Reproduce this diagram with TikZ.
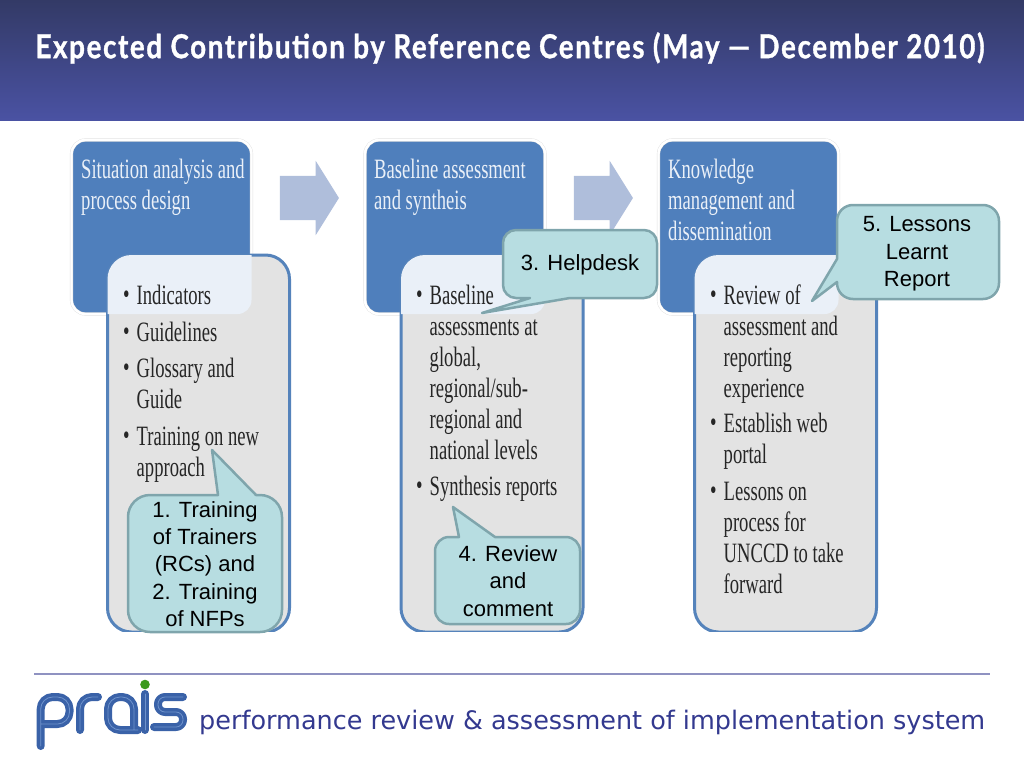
\documentclass[tikz,border=0pt]{standalone}
\usepackage{fontspec}
\usetikzlibrary{shapes.arrows}
\newfontfamily\titlefont[FakeStretch=0.84,LetterSpace=5,FakeBold=1]{Lato Bold}
\newfontfamily\cardfont[FakeStretch=0.665]{Liberation Serif}
\newfontfamily\notefont{Liberation Sans}
\newfontfamily\footfont{DejaVu Sans}

\definecolor{headtop}{HTML}{333A66}
\definecolor{headbot}{HTML}{4A52A3}
\definecolor{cardblue}{HTML}{4F7FBC}
\definecolor{cardpale}{HTML}{EAF0F8}
\definecolor{boxgray}{HTML}{E3E3E3}
\definecolor{boxedge}{HTML}{5583BB}
\definecolor{flowblue}{HTML}{AFBEDB}
\definecolor{notefill}{HTML}{B7DDE1}
\definecolor{noteedge}{HTML}{7FA5AC}
\definecolor{footblue}{HTML}{33398F}
\definecolor{logoblue}{HTML}{3A62A8}
\definecolor{logolight}{HTML}{6F93CC}
\definecolor{logogreen}{HTML}{3C9A1E}

\tikzset{
  card/.style={rectangle, minimum width=180pt, minimum height=174pt, outer sep=0pt,
    rounded corners=14pt, fill=cardblue, draw=black!12, line width=.4pt,
    double=white, double distance=2.4pt},
  listbox/.style={rectangle, minimum width=182pt, minimum height=377pt, outer sep=0pt,
    rounded corners=24pt, fill=boxgray, draw=boxedge, line width=3pt},
  cardtitle/.style={anchor=north west, inner sep=0pt, align=left, text=cardpale,
    font=\cardfont\fontsize{28}{31}\selectfont},
  cardlist/.style={anchor=north west, inner sep=0pt, text=black!85,
    font=\cardfont\fontsize{28}{31}\selectfont},
  flow/.style={single arrow, fill=flowblue, inner xsep=0pt, inner ysep=22pt, outer sep=0pt,
    minimum height=59pt, single arrow head extend=15pt,
    single arrow tip angle=116},
  note/.style={fill=notefill, draw=noteedge, line width=2.5pt, line join=round},
  notelabel/.style={inner sep=0pt, align=center, text=black,
    font=\notefont\fontsize{22}{27.3}\selectfont},
  logo/.style={line cap=round, line join=round, rounded corners=12pt}
}
\newcommand{\bul}{\raisebox{1pt}{\textbullet}}

\begin{document}
\begin{tikzpicture}[x=1pt,y=-1pt]
  \useasboundingbox (0,0) rectangle (1024,768);

  % header
  \shade[top color=headtop, bottom color=headbot] (0,0) rectangle (1024,120);
  \node[text=white, font=\titlefont\fontsize{33}{36}\selectfont] (heading) at (510,48)
    {Expected Contribution by Reference Centres (May — December 2010)};

  % flow arrows
  \node[flow] (flow1) at (302.5,198) {};
  \node[flow] (flow2) at (596.5,198) {};

  % cards and list boxes
  \begin{scope}
    \clip (0,120) rectangle (1024,631.5);
    \foreach \i/\cx/\bx in {1/161.5/198.5, 2/455/492, 3/748.5/785.5} {
      \node[card] (card\i) at (\cx,227) {};
      \node[listbox] (box\i) at (\bx,443.5) {};
      \begin{scope}
        \clip[rounded corners=24pt] (box\i.north west) rectangle (box\i.south east);
        \fill[cardpale, rounded corners=14pt] (card\i.north west) rectangle (card\i.south east);
      \end{scope}
    }
  \end{scope}

  % card titles
  \node[cardtitle] (title1) at (81,159) {Situation analysis and\\process design};
  \node[cardtitle] (title2) at (374,159) {Baseline assessment\\and syntheis};
  \node[cardtitle] (title3) at (668,159) {Knowledge\\management and\\dissemination};

  % lists
  \node[cardlist] (list1) at (123,283) {\begin{tabular}{@{}l@{\hspace{7pt}}l@{}}
    \bul & Indicators\\[5.5pt]
    \bul & Guidelines\\[5.5pt]
    \bul & Glossary and\\
         & Guide\\[5.5pt]
    \bul & Training on new\\
         & approach
  \end{tabular}};
  \node[cardlist] (list2) at (416,283) {\begin{tabular}{@{}l@{\hspace{7pt}}l@{}}
    \bul & Baseline\\
         & assessments at\\
         & global,\\
         & regional/sub-\\
         & regional and\\
         & national levels\\[5pt]
    \bul & Synthesis reports
  \end{tabular}};
  \node[cardlist] (list3) at (710,283) {\begin{tabular}{@{}l@{\hspace{7pt}}l@{}}
    \bul & Review of\\
         & assessment and\\
         & reporting\\
         & experience\\[4pt]
    \bul & Establish web\\
         & portal\\[5.5pt]
    \bul & Lessons on\\
         & process for\\
         & UNCCD to take\\
         & forward
  \end{tabular}};

  % callouts
  \draw[note] (218,495) -- (212,450) -- (256,495) [rounded corners=22pt] -- (282,495)
    -- (282,632) -- (128,632) -- (128,495) [sharp corners] -- cycle;
  \node[notelabel] (note1) at (205,564) {1. Training\\of Trainers\\(RCs) and\\2. Training\\of NFPs};

  \draw[note] (570,298) [rounded corners=13pt] -- (657,298) -- (657,230) -- (503,230)
    -- (503,298) [sharp corners] -- (530,298) -- (482,313) -- cycle;
  \node[notelabel] (note3) at (580,265) {3. Helpdesk};

  \draw[note] (459,537) -- (453,507) -- (495,537) [rounded corners=14pt] -- (580,537)
    -- (580,624) -- (435,624) -- (435,537) [sharp corners] -- cycle;
  \node[notelabel] (note4) at (508,581) {4. Review\\and\\comment};

  \draw[note] (837,282) -- (812,301) -- (837,259) [rounded corners=16pt] -- (837,205)
    -- (999,205) -- (999,299) -- (837,299) [sharp corners] -- cycle;
  \node[notelabel] (note5) at (917,254) {5. Lessons\\Learnt\\Report};

  % footer
  \draw[draw=footblue!55, line width=1.2pt] (34,674) -- (990,674);
  \foreach \w/\c in {8/logoblue, .8/logolight} {
    \draw[logo, draw=\c, line width=\w pt] (40.7,746) -- (40.7,697) -- (69.5,697) -- (69.5,724) -- (40.7,724);
    \draw[logo, draw=\c, line width=\w pt] (80,730) -- (80,697) -- (98,697);
    \draw[logo, draw=\c, line width=\w pt] (138,730) -- (108,730) -- (108,697) -- (134,697) -- (134,730);
    \draw[logo, draw=\c, line width=\w pt] (145,730) -- (145,694);
    \draw[logo, rounded corners=7pt, draw=\c, line width=\w pt] (183,697) -- (158,697) -- (158,712) -- (183,712) -- (183,727) -- (154,727);
  }
  \fill[logogreen] (145,684.5) circle (4.8pt);
  \node[anchor=west, inner sep=0pt, text=footblue, font=\footfont\fontsize{25.5}{28}\selectfont] (tagline) at (199,722)
    {performance review \& assessment of implementation system};
\end{tikzpicture}
\end{document}
